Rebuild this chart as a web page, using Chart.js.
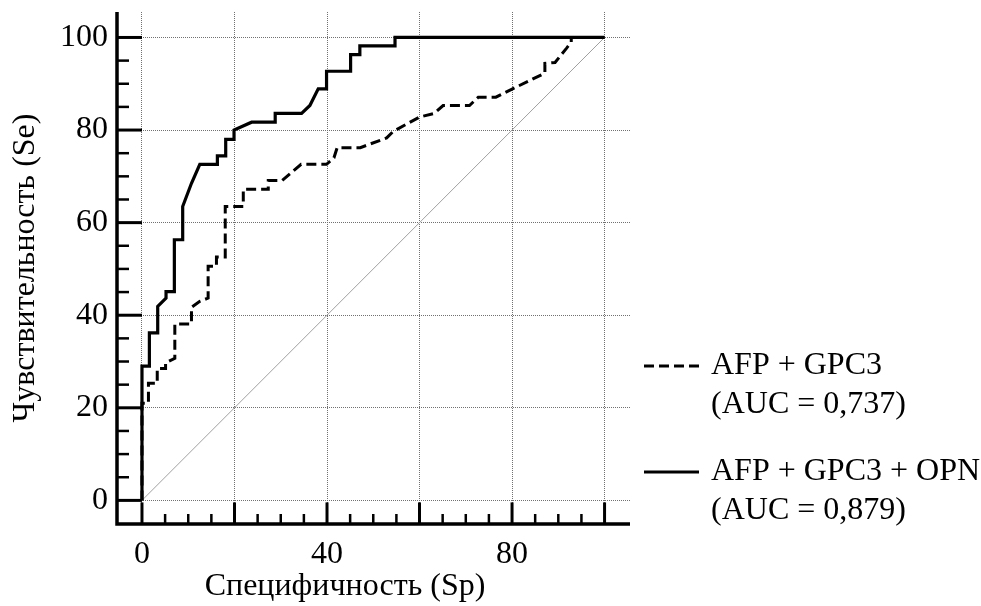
<!DOCTYPE html>
<html>
<head>
<meta charset="utf-8">
<script src="https://cdn.jsdelivr.net/npm/chart.js@4"></script>
<style>
  html, body { margin: 0; padding: 0; background: #fff; }
  #wrap { width: 981px; height: 606px; }
</style>
</head>
<body>
<div id="wrap"><canvas id="c" width="981" height="606"></canvas></div>
<script>
// ---- Data ----
const gridTicks = [0, 20, 40, 60, 80, 100];
const xTickLabels = ['0', '', '40', '', '80', ''];
const yTickLabels = ['0', '20', '40', '60', '80', '100'];
const minorTicks = [5, 10, 15, 25, 30, 35, 45, 50, 55, 65, 70, 75, 85, 90, 95];

const xTitle = 'Специфичность (Sp)';
const yTitle = 'Чувствительность (Se)';

// AFP + GPC3 (dashed)
const afpGpc3Sp = [0, 0, 1.4, 1.4, 3.3, 3.3, 5.1, 5.1, 7.1, 7.1, 10.7, 10.7, 12.5, 14.3, 14.3, 16.1, 16.1, 18.0, 18.0,
  21.9, 21.9, 27.3, 27.3, 30.3, 34.4, 39.9, 41.5, 42.2, 47.2, 52.9, 54.3, 60.0, 63.2, 65.1, 70.8, 72.7, 76.5, 79.9,
  87.1, 87.1, 89.3, 91.8, 92.8, 92.8, 100];
const afpGpc3Se = [0, 21.0, 21.0, 25.3, 25.3, 28.5, 28.5, 29.7, 30.7, 38.1, 38.1, 41.7, 43.0, 43.7, 50.6, 50.6, 52.6, 52.6, 63.5,
  63.5, 67.2, 67.2, 69.1, 69.1, 72.6, 72.6, 74.0, 76.2, 76.2, 78.3, 79.7, 82.8, 83.6, 85.3, 85.3, 87.1, 87.1, 88.8,
  92.3, 94.4, 94.6, 97.7, 99.0, 100, 100];

// AFP + GPC3 + OPN (solid)
const afpGpc3OpnSp = [0, 0, 1.6, 1.6, 3.4, 3.4, 5.2, 5.2, 7.0, 7.0, 8.8, 8.8, 10.7, 12.5, 16.3, 16.3, 18.1, 18.1, 19.9, 19.9,
  23.7, 28.8, 28.8, 34.5, 36.3, 38.1, 39.9, 39.9, 45.1, 45.1, 47.1, 47.1, 54.7, 54.7, 100];
const afpGpc3OpnSe = [0, 29.0, 29.0, 36.2, 36.2, 41.9, 43.7, 45.1, 45.1, 56.3, 56.3, 63.5, 68.5, 72.6, 72.6, 74.4, 74.4, 78.0, 78.0, 80.0,
  81.7, 81.7, 83.6, 83.6, 85.3, 88.9, 88.9, 92.7, 92.7, 96.3, 96.3, 98.2, 98.2, 100, 100];

// Reference diagonal
const diagSp = [0, 100];
const diagSe = [0, 100];

const legendLines1 = ['AFP + GPC3', '(AUC = 0,737)'];
const legendLines2 = ['AFP + GPC3 + OPN', '(AUC = 0,879)'];

// ---- helpers ----
const pts = (xs, ys) => xs.map((x, i) => ({ x: x, y: ys[i] }));
const FONT = 'Liberation Serif';
const FS = 32;

const axesPlugin = {
  id: 'axesPlugin',
  afterDatasetsDraw(chart) {
    const ctx = chart.ctx;
    const xs = chart.scales.x, ys = chart.scales.y;
    const ca = chart.chartArea;
    ctx.save();
    ctx.strokeStyle = '#000';
    ctx.lineCap = 'butt';
    // ticks
    ctx.lineWidth = 3;
    const x0 = xs.getPixelForValue(0);
    const y0 = ys.getPixelForValue(0);
    gridTicks.forEach(v => {
      const py = ys.getPixelForValue(v);
      ctx.beginPath(); ctx.moveTo(ca.left, py); ctx.lineTo(x0, py); ctx.stroke();
      const px = xs.getPixelForValue(v);
      ctx.beginPath(); ctx.moveTo(px, ca.bottom); ctx.lineTo(px, y0 + 2); ctx.stroke();
    });
    ctx.lineWidth = 2.5;
    minorTicks.forEach(v => {
      const py = ys.getPixelForValue(v);
      ctx.beginPath(); ctx.moveTo(ca.left, py); ctx.lineTo(ca.left + 12, py); ctx.stroke();
      const px = xs.getPixelForValue(v);
      ctx.beginPath(); ctx.moveTo(px, ca.bottom); ctx.lineTo(px, ca.bottom - 10); ctx.stroke();
    });
    // axis lines
    ctx.lineWidth = 3.5;
    ctx.beginPath(); ctx.moveTo(ca.left, ca.top); ctx.lineTo(ca.left, ca.bottom); ctx.lineTo(ca.right, ca.bottom); ctx.stroke();

    // axis titles
    ctx.font = FS + 'px "' + FONT + '"';
    ctx.fillStyle = '#000';
    ctx.textBaseline = 'middle';
    ctx.textAlign = 'center';
    ctx.fillText(xTitle, 345, 587);
    ctx.save();
    ctx.translate(26, 268);
    ctx.rotate(-Math.PI / 2);
    ctx.fillText(yTitle, 0, 0);
    ctx.restore();

    // legend
    ctx.textAlign = 'left';
    const items = [
      { ds: chart.data.datasets[1], lines: legendLines1, y: 366 },
      { ds: chart.data.datasets[2], lines: legendLines2, y: 472 }
    ];
    items.forEach(it => {
      ctx.save();
      ctx.lineWidth = 3;
      ctx.strokeStyle = it.ds.borderColor;
      ctx.setLineDash(it.ds.borderDash || []);
      ctx.beginPath(); ctx.moveTo(644, it.y); ctx.lineTo(699, it.y); ctx.stroke();
      ctx.restore();
      it.lines.forEach((t, i) => ctx.fillText(t, 711, it.y + i * 39));
    });
    ctx.restore();
  }
};

new Chart(document.getElementById('c'), {
  type: 'scatter',
  data: {
    datasets: [
      { label: 'diag', data: pts(diagSp, diagSe), showLine: true, borderColor: '#a0a0a0', borderWidth: 1, pointRadius: 0, order: 3 },
      { label: legendLines1.join(' '), data: pts(afpGpc3Sp, afpGpc3Se), showLine: true, borderColor: '#000', borderWidth: 3,
        borderDash: [10, 5], pointRadius: 0, borderJoinStyle: 'miter', order: 2 },
      { label: legendLines2.join(' '), data: pts(afpGpc3OpnSp, afpGpc3OpnSe), showLine: true, borderColor: '#000', borderWidth: 3.2,
        pointRadius: 0, borderJoinStyle: 'miter', order: 1 }
    ]
  },
  options: {
    responsive: false,
    devicePixelRatio: 1,
    animation: false,
    layout: { padding: { top: 12, right: 351, left: 0, bottom: 0 } },
    plugins: { legend: { display: false }, tooltip: { enabled: false } },
    scales: {
      x: {
        type: 'linear', min: -5.4, max: 105.5,
        afterBuildTicks: s => { s.ticks = gridTicks.map(v => ({ value: v })); },
        afterFit: s => { s.height = 82; s.paddingLeft = 0; s.paddingRight = 0; s.paddingTop = 0; s.paddingBottom = 0; },
        grid: { color: '#707070', lineWidth: 1, drawTicks: false },
        border: { display: false, dash: [1, 1] },
        ticks: { padding: 11, color: '#000', font: { family: FONT, size: FS }, maxRotation: 0, autoSkip: false,
          callback: (v, i) => xTickLabels[gridTicks.indexOf(v)] ?? '' },
        title: { display: false }
      },
      y: {
        type: 'linear', min: -5.1, max: 105.5,
        afterBuildTicks: s => { s.ticks = gridTicks.map(v => ({ value: v })); },
        afterFit: s => { s.width = 117; s.paddingLeft = 0; s.paddingRight = 0; s.paddingTop = 0; s.paddingBottom = 0; },
        grid: { color: '#707070', lineWidth: 1, drawTicks: false },
        border: { display: false, dash: [1, 1] },
        ticks: { padding: 9, color: '#000', font: { family: FONT, size: FS }, autoSkip: false,
          callback: (v) => yTickLabels[gridTicks.indexOf(v)] ?? '' },
        title: { display: false }
      }
    }
  },
  plugins: [axesPlugin]
});
</script>
</body>
</html>
